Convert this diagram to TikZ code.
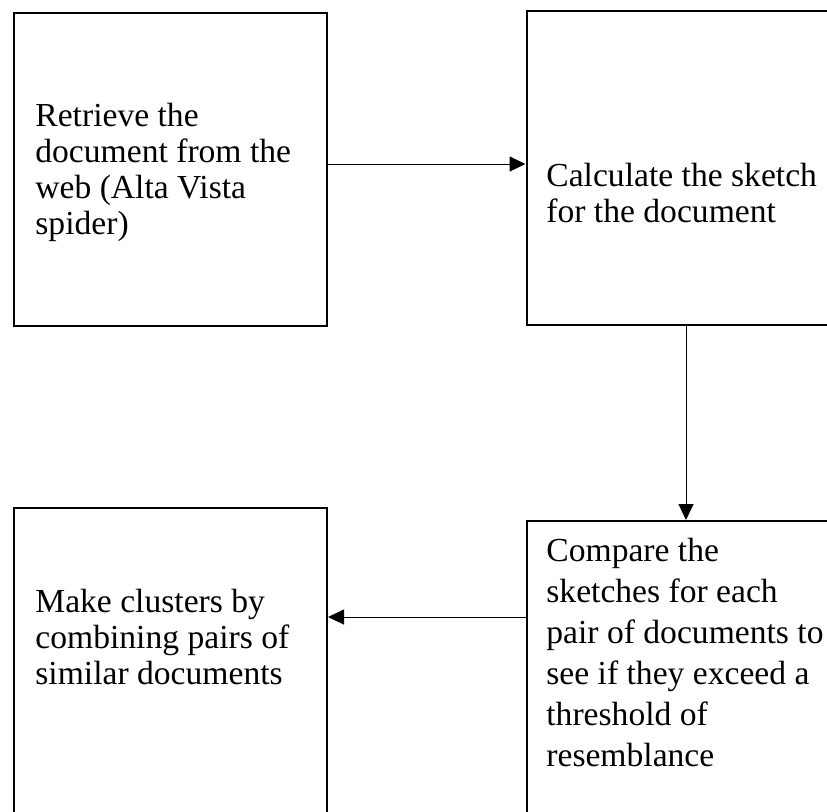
\documentclass[tikz,border=0pt]{standalone}
\usepackage{fontspec}
\setmainfont{Liberation Serif}
\usetikzlibrary{arrows.meta}
\begin{document}
\begin{tikzpicture}[x=0.5pt,y=-0.5pt,
  boxnode/.style={draw,line width=1pt,inner sep=0pt,anchor=north west},
  txt/.style={anchor=base west,inner sep=0pt,align=left,font=\fontsize{16.8}{18}\selectfont},
  arr/.style={line width=0.5pt,-{Triangle[length=8pt,width=7.5pt]}}]
\useasboundingbox (0,0) rectangle (827,811);
\clip (0,0) rectangle (827,811);
\node[boxnode,minimum width=156.5pt,minimum height=156.5pt] (b1) at (13,11.5) {};
\node[boxnode,minimum width=180pt,minimum height=157pt] (b2) at (525.5,10) {};
\node[boxnode,minimum width=156.5pt,minimum height=190pt] (b3) at (13,507) {};
\node[boxnode,minimum width=180pt,minimum height=190pt] (b4) at (525.5,520) {};
\node[txt] (t1) at (35,234) {Retrieve the\\document from the\\web (Alta Vista\\spider)};
\node[txt] (t2) at (546,222) {Calculate the sketch\\for the document};
\node[txt] (t3) at (35,684) {Make clusters by\\combining pairs of\\similar documents};
\node[txt,font=\fontsize{16.8}{20.5}\selectfont] (t4) at (546,766) {Compare the\\sketches for each\\pair of documents to\\see if they exceed a\\threshold of\\resemblance};
\draw[arr] (b1.east |- 0,164) -- (b2.west |- 0,164);
\draw[arr] (b2.south -| 686,0) -- (b4.north -| 686,0);
\draw[arr] (b4.west |- 0,617) -- (b3.east |- 0,617);
\end{tikzpicture}
\end{document}
